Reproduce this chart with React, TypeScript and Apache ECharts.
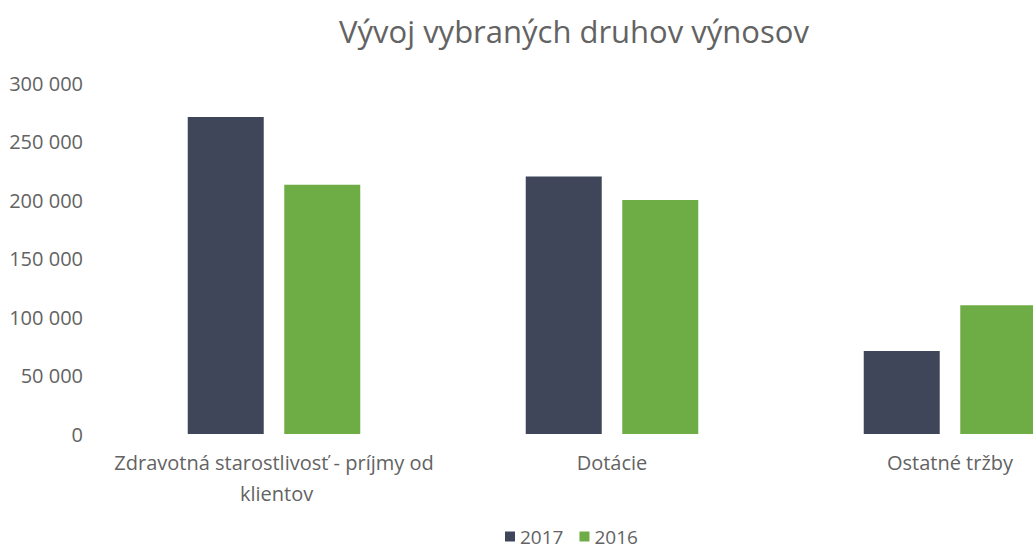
import React, { useEffect, useRef } from "react";
import * as echarts from "echarts";

const title = "Vývoj vybraných druhov výnosov";
const categories = ["Zdravotná starostlivosť - príjmy od klientov", "Dotácie", "Ostatné tržby"];
const seriesNames = ["2017", "2016"];
const values2017 = [271000, 220000, 71000];
const values2016 = [213000, 200000, 110000];
const colors = ["#3f4659", "#6eac46"];

const fmt = (v: number) => {
  const s = String(Math.round(v));
  return s.replace(/\B(?=(\d{3})+(?!\d))/g, " ");
};

export default function App() {
  const ref = useRef<HTMLDivElement>(null);
  useEffect(() => {
    if (!ref.current) return;
    const chart = echarts.init(ref.current, null, { renderer: "svg" });
    const font = "'Open Sans', sans-serif";
    const textColor = "#636363";
    chart.setOption({
      animation: false,
      backgroundColor: "#ffffff",
      title: {
        text: title,
        left: 569,
        top: 10,
        textAlign: "center",
        textStyle: { fontFamily: font, fontSize: 31, fontWeight: "normal", color: textColor },
      },
      legend: {
        data: seriesNames,
        top: 522,
        left: 500,
        itemWidth: 10,
        itemHeight: 10,
        itemGap: 16,
        icon: "rect",
        textStyle: { fontFamily: font, fontSize: 19, color: textColor },
      },
      grid: { left: 105, top: 83, width: 1014, height: 351, containLabel: false },
      xAxis: {
        type: "category",
        data: categories,
        axisLine: { show: false },
        axisTick: { show: false },
        axisLabel: {
          interval: 0,
          fontFamily: font,
          fontSize: 20,
          color: textColor,
          margin: 13,
          width: 360,
          overflow: "break",
          lineHeight: 31,
        },
      },
      yAxis: {
        type: "value",
        min: 0,
        max: 300000,
        interval: 50000,
        splitLine: { show: false },
        axisLine: { show: false },
        axisTick: { show: false },
        axisLabel: {
          fontFamily: font,
          fontSize: 20,
          color: textColor,
          margin: 22,
          formatter: (v: number) => fmt(v),
        },
      },
      series: [
        {
          name: seriesNames[0],
          type: "bar",
          data: values2017,
          barWidth: 76,
          barGap: "27%",
          itemStyle: { color: colors[0] },
        },
        {
          name: seriesNames[1],
          type: "bar",
          data: values2016,
          barWidth: 76,
          barGap: "27%",
          itemStyle: { color: colors[1] },
        },
      ],
    });
    return () => chart.dispose();
  }, []);
  return (
    <div style={{ width: 1033, height: 552, position: "absolute", left: 0, top: 0, overflow: "hidden" }}>
      <div ref={ref} style={{ width: 1140, height: 552 }} />
    </div>
  );
}
